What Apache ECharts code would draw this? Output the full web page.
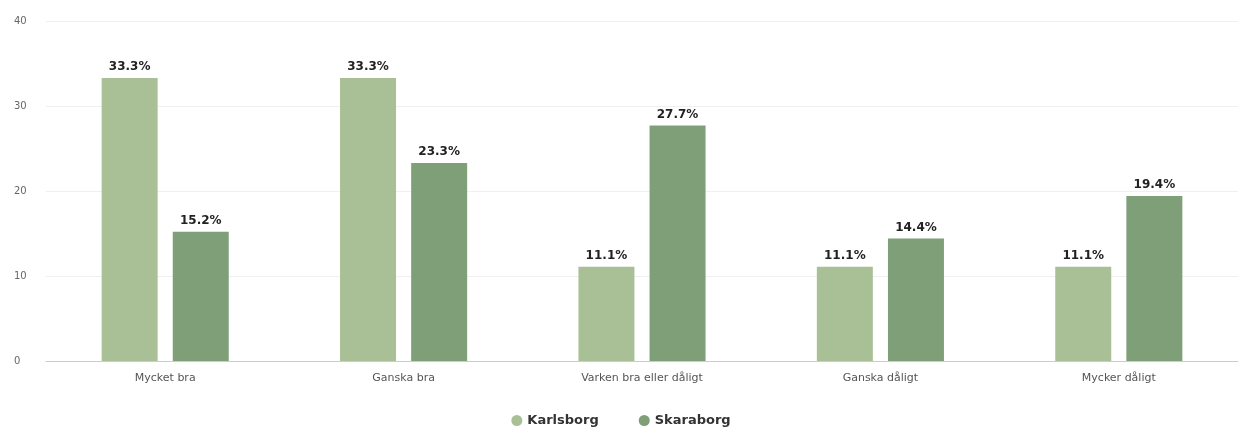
<!DOCTYPE html>
<html><head><meta charset="utf-8">
<script src="https://cdn.jsdelivr.net/npm/echarts@6/dist/echarts.min.js"></script>
<style>html,body{margin:0;padding:0;background:#fff}#c{width:1242px;height:433px}</style>
</head><body><div id="c"></div>
<script>
const categories = ["Mycket bra", "Ganska bra", "Varken bra eller dåligt", "Ganska dåligt", "Mycker dåligt"];
const karlsborg = [33.3, 33.3, 11.1, 11.1, 11.1];
const skaraborg = [15.2, 23.3, 27.7, 14.4, 19.4];
const seriesNames = ["Karlsborg", "Skaraborg"];
const chart = echarts.init(document.getElementById('c'));
const lbl = {show:true, position:'top', formatter: p => p.value.toFixed(1) + '%', color:'#222', fontWeight:'bold', fontSize:12, fontFamily:'DejaVu Sans', distance:5};
chart.setOption({
  animation:false,
  grid:{left:46, right:4, top:21, bottom:72},
  legend:{bottom:1, left:'center', icon:'circle', itemWidth:11, itemHeight:11, itemGap:40,
    textStyle:{color:'#333', fontWeight:'bold', fontSize:13, fontFamily:'DejaVu Sans'}, data:seriesNames},
  xAxis:{type:'category', data:categories,
    axisLine:{lineStyle:{color:'#ccc'}}, axisTick:{show:false},
    axisLabel:{color:'#555', fontSize:11, margin:12, fontFamily:'DejaVu Sans'}},
  yAxis:{type:'value', min:0, max:40, interval:10,
    axisLabel:{color:'#666', fontSize:10, margin:32, fontFamily:'DejaVu Sans', align:'left'},
    splitLine:{lineStyle:{color:'#f0f0f0'}}},
  series:[
    {name:seriesNames[0], type:'bar', data:karlsborg, barWidth:56, barGap:'27%', itemStyle:{color:'#a9c096'}, label:lbl},
    {name:seriesNames[1], type:'bar', data:skaraborg, barWidth:56, barGap:'27%', itemStyle:{color:'#7f9f79'}, label:lbl}
  ]
});
</script></body></html>
